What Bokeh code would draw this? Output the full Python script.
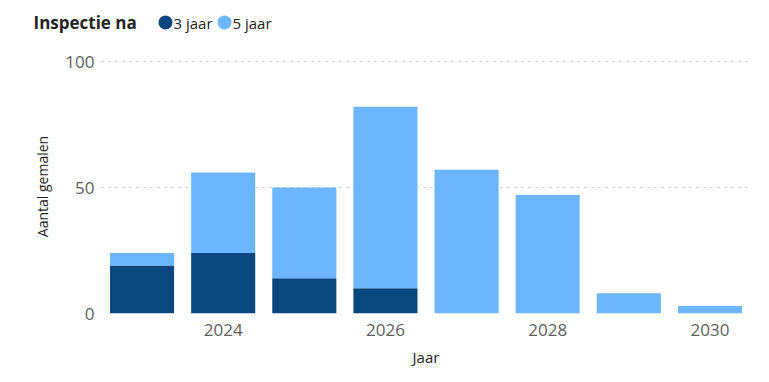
from bokeh.plotting import figure
from bokeh.layouts import column, row
from bokeh.models import Range1d, FixedTicker, Label, ColumnDataSource
from bokeh.embed import file_html
from bokeh.resources import INLINE

years = [2023, 2024, 2025, 2026, 2027, 2028, 2029, 2030]
na_3_jaar = [19, 24, 14, 10, 0, 0, 0, 0]
na_5_jaar = [5, 32, 36, 72, 57, 47, 8, 3]
series = ["3 jaar", "5 jaar"]
legend_title = "Inspectie na"
colors = ["#0A477F", "#6BB6FE"]
x_ticks = [2024, 2026, 2028, 2030]
y_ticks = [0, 50, 100]

FONT = "Open Sans"
W = 769
TOP_H = 45

# ---- legend strip (pixel coordinate space) ----
top = figure(width=W, height=TOP_H, output_backend="svg", toolbar_location=None,
             x_range=Range1d(0, W), y_range=Range1d(0, TOP_H),
             min_border=0, min_border_left=0, min_border_right=0,
             min_border_top=0, min_border_bottom=0)
top.axis.visible = False
top.grid.visible = False
top.outline_line_color = None

ROW_Y = 23
key_x = [165, 224]          # legend key centres (layout, not data)
key_src = ColumnDataSource(dict(x=key_x, y=[ROW_Y] * len(key_x), c=colors))
top.scatter("x", "y", source=key_src, marker="circle", size=14, color="c", line_color=None)
for kx, lab in zip(key_x, series):
    top.add_layout(Label(x=kx + 8, y=ROW_Y, text=lab, text_font=FONT, text_font_size="15px",
                         text_color="#252423", text_baseline="middle", text_align="left"))
top.add_layout(Label(x=33, y=ROW_Y, text=legend_title,
                     text_font=FONT, text_font_size="17px", text_font_style="bold",
                     text_color="#252423", text_baseline="middle", text_align="left"))

# ---- chart ----
src = ColumnDataSource(dict(jaar=years, d3=na_3_jaar, d5=na_5_jaar))
p = figure(width=W, height=382 - TOP_H, output_backend="svg", toolbar_location=None,
           x_range=Range1d(2022.5, 2030.5), y_range=Range1d(0, 100.8),
           min_border_left=101, min_border_right=19, min_border_top=14, min_border_bottom=69)
p.outline_line_color = None

p.vbar_stack(["d3", "d5"], x="jaar", width=0.79, source=src, color=colors, line_color=None)

p.xaxis.ticker = FixedTicker(ticks=x_ticks)
p.yaxis.ticker = FixedTicker(ticks=y_ticks)
for ax in (p.xaxis[0], p.yaxis[0]):
    ax.axis_line_color = None
    ax.major_tick_line_color = None
    ax.minor_tick_line_color = None
    ax.major_label_text_font = FONT
    ax.major_label_text_font_size = "17px"
    ax.major_label_text_color = "#605E5C"
    ax.axis_label_text_font = FONT
    ax.axis_label_text_font_style = "normal"
    ax.axis_label_text_color = "#252423"
p.xaxis.axis_label = "Jaar"
p.xaxis.axis_label_text_font_size = "15px"
p.xaxis.major_label_standoff = 4
p.xaxis.axis_label_standoff = 8
p.yaxis.axis_label = "Aantal gemalen"
p.yaxis.axis_label_text_font_size = "14px"
p.yaxis.major_label_standoff = 1
p.yaxis.axis_label_standoff = 10

p.xgrid.grid_line_color = None
p.ygrid.ticker = FixedTicker(ticks=[50, 100])
p.ygrid.grid_line_color = "#C4C2C0"
p.ygrid.grid_line_dash = "2 5"
p.ygrid.grid_line_width = 1

layout = column(row(top), p, spacing=0)
open("out.html", "w").write(file_html(layout, INLINE))
